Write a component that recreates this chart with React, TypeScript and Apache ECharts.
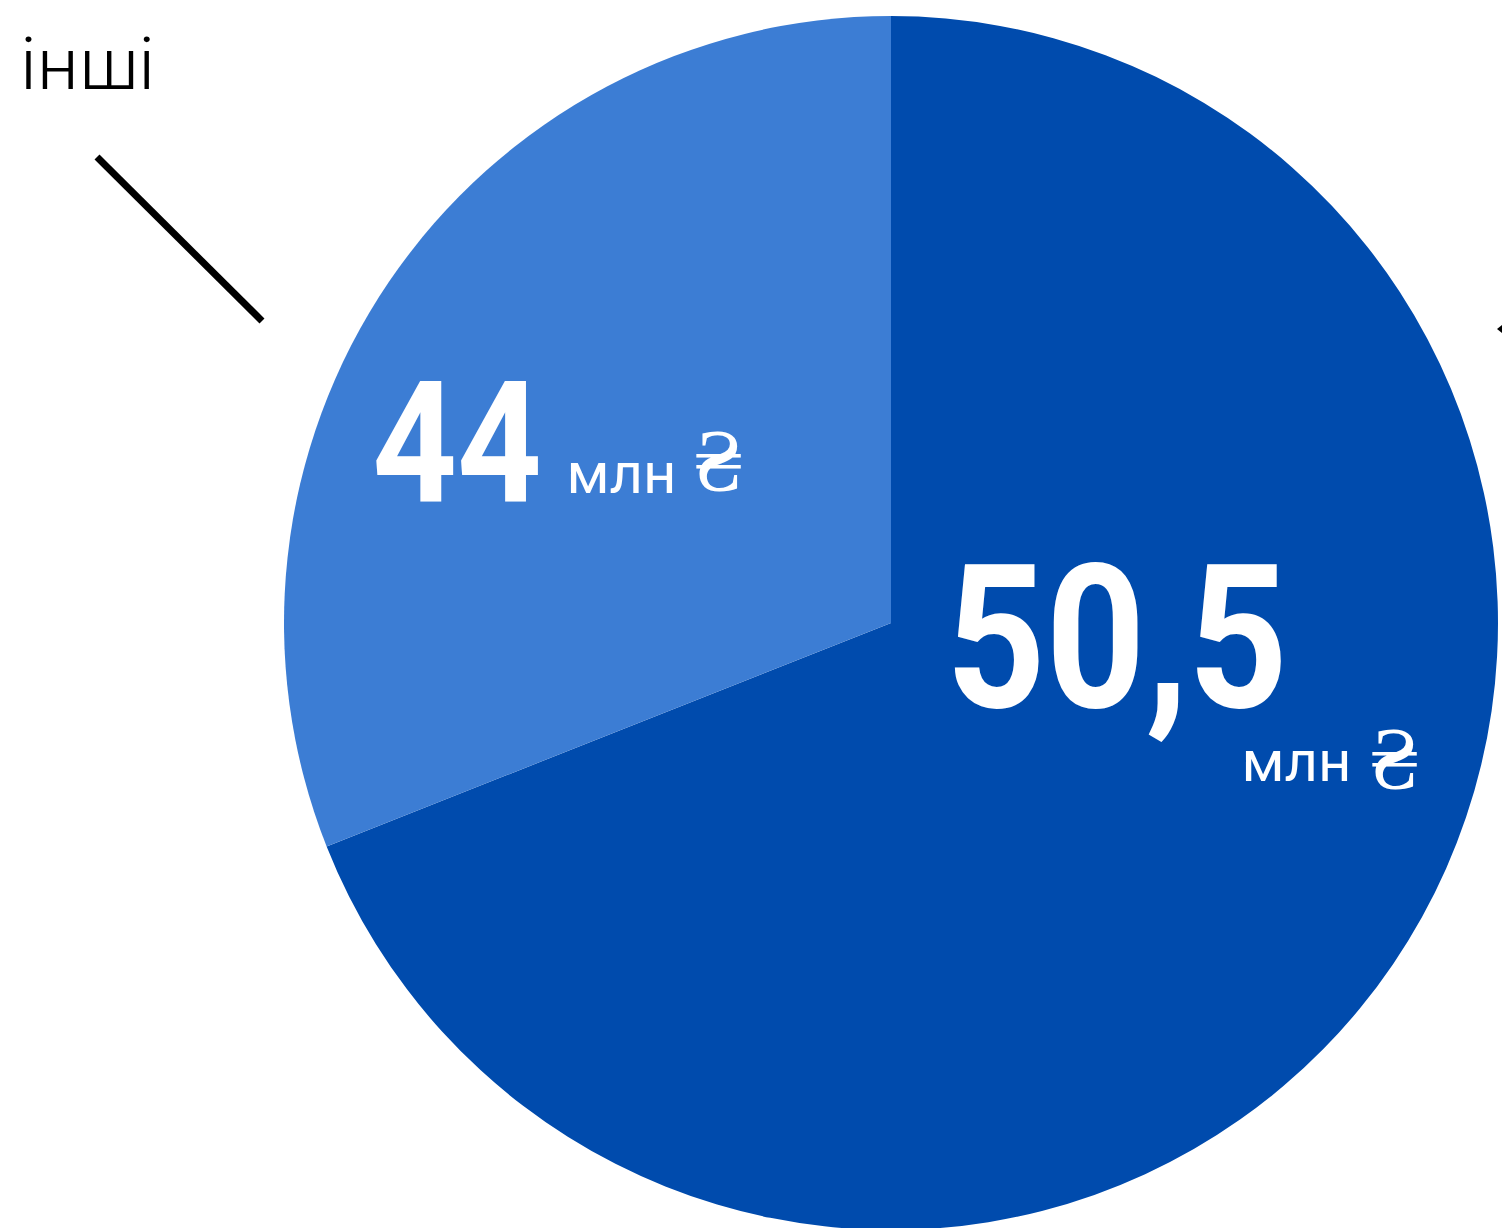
import React, { useEffect, useRef } from "react";
import * as echarts from "echarts";

// Data
const sliceNames = ["основна частка", "інші"];
const sliceShares = [69.0, 31.0]; // share of the circle, %
const amountLabels = ["50,5", "44"];
const unitWord = "млн";
const currencySign = "₴";
const calloutLabel = "інші";

const DARK = "#004BAD";
const LIGHT = "#3C7DD4";

function txt(
  text: string,
  x: number,
  y: number,
  size: number,
  opts: { weight?: string | number; fill?: string; align?: string; scaleX?: number } = {}
) {
  const align = opts.align || "center";
  return {
    type: "text",
    x,
    y,
    z: 100,
    scaleX: opts.scaleX || 1,
    silent: true,
    style: {
      text,
      fill: opts.fill || "#ffffff",
      fontFamily: "Roboto",
      fontWeight: opts.weight || "normal",
      fontSize: size,
      align,
      verticalAlign: "middle",
      textAlign: align,
      textVerticalAlign: "middle",
    },
  };
}

export default function App() {
  const ref = useRef<HTMLDivElement>(null);
  useEffect(() => {
    if (!ref.current) return;
    const chart = echarts.init(ref.current, undefined, { renderer: "svg" });
    chart.setOption({
      animation: false,
      series: [
        {
          type: "pie",
          center: [891, 623],
          radius: [0, 607],
          startAngle: 90,
          clockwise: true,
          silent: true,
          z: 2,
          label: { show: false },
          labelLine: { show: false },
          emphasis: { disabled: true },
          itemStyle: { borderWidth: 0 },
          data: sliceNames.map((n, i) => ({
            name: n,
            value: sliceShares[i],
            itemStyle: { color: i === 0 ? DARK : LIGHT },
          })),
        },
      ],
      graphic: [
        txt(amountLabels[0], 1117, 639, 201, { weight: "bold", scaleX: 0.865 }),
        txt(amountLabels[1], 457, 444, 168, { weight: "bold", scaleX: 0.88 }),
        txt(unitWord, 621.5, 473, 58),
        txt(currencySign, 719, 459, 88, { scaleX: 1.0 }),
        txt(unitWord, 1296.5, 761, 58),
        txt(currencySign, 1395, 757, 88, { scaleX: 1.0 }),
        txt(calloutLabel, 20, 64, 72, { fill: "#000000", align: "left", weight: 300, scaleX: 1.04 }),
        {
          type: "line",
          z: 100,
          silent: true,
          shape: { x1: 97, y1: 157, x2: 262, y2: 321 },
          style: { stroke: "#000000", lineWidth: 7 },
        },
        {
          type: "polygon",
          z: 100,
          silent: true,
          shape: { points: [[1497, 329], [1502, 325], [1502, 333]] },
          style: { fill: "#000000" },
        },
      ],
    });
    return () => chart.dispose();
  }, []);
  return (
    <div
      ref={ref}
      style={{ position: "fixed", left: 0, top: 0, width: 1502, height: 1228 }}
    />
  );
}
